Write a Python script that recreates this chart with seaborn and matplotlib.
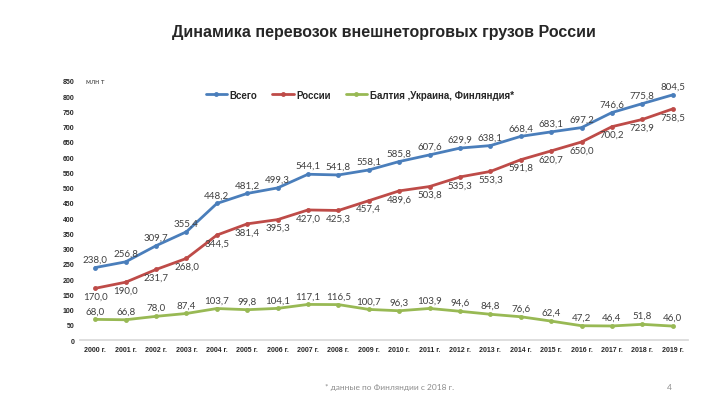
"""Dynamics of Russian foreign trade cargo transport, 2000-2019."""

import matplotlib
matplotlib.use("Agg")
import matplotlib.pyplot as plt
import numpy as np
import pandas as pd
import seaborn as sns

years = [f"{y} г." for y in range(2000, 2020)]
total = [238.0, 256.8, 309.7, 355.4, 448.2, 481.2, 499.3, 544.1, 541.8, 558.1,
         585.8, 607.6, 629.9, 638.1, 668.4, 683.1, 697.2, 746.6, 775.8, 804.5]
russia = [170.0, 190.0, 231.7, 268.0, 344.5, 381.4, 395.3, 427.0, 425.3, 457.4,
          489.6, 503.8, 535.3, 553.3, 591.8, 620.7, 650.0, 700.2, 723.9, 758.5]
baltic = [68.0, 66.8, 78.0, 87.4, 103.7, 99.8, 104.1, 117.1, 116.5, 100.7,
          96.3, 103.9, 94.6, 84.8, 76.6, 62.4, 47.2, 46.4, 51.8, 46.0]
series_names = ["Всего", "России", "Балтия ,Украина, Финляндия*"]

sns.set_theme(style="white")
plt.rcParams["font.family"] = ["Lato", "DejaVu Sans"]

df = pd.DataFrame({"pos": np.arange(len(years)), "Всего": total,
                   "России": russia, "Балтия ,Украина, Финляндия*": baltic})
long = df.melt(id_vars="pos", var_name="series", value_name="value")

colors = ["#4a7ebb", "#be4b48", "#98b954"]
fig = plt.figure(figsize=(7.28, 4.10), dpi=100)
ax = fig.add_axes([0.11, 0.168, 0.835, 0.632])

sns.lineplot(data=long, x="pos", y="value", hue="series", hue_order=series_names,
             palette=colors, marker="o", markersize=3.5, markeredgewidth=0,
             linewidth=2, ax=ax)

ax.set_xlim(-0.5, len(years) - 0.5)
ax.set_ylim(0, 850)
ax.set_yticks(range(0, 851, 50))
ax.set_xticks(range(len(years)))
ax.set_xticklabels(years)
ax.tick_params(axis="both", labelsize=5, length=0, pad=4)
for lab in ax.get_xticklabels() + ax.get_yticklabels():
    lab.set_fontweight("bold")
    lab.set_family(["Liberation Sans", "DejaVu Sans"])
ax.set_xlabel("")
ax.set_ylabel("")
for s in ["top", "right", "left"]:
    ax.spines[s].set_visible(False)
ax.spines["bottom"].set_color("#d9d9d9")

lab_kw = dict(ha="center", fontsize=7, color="#404040", textcoords="offset points")
for i in range(len(years)):
    ax.annotate(f"{total[i]:.1f}".replace(".", ","), (i, total[i]), xytext=(0, 3), va="bottom", **lab_kw)
    ax.annotate(f"{russia[i]:.1f}".replace(".", ","), (i, russia[i]), xytext=(0, -2.5), va="top", **lab_kw)
    ax.annotate(f"{baltic[i]:.1f}".replace(".", ","), (i, baltic[i]), xytext=(0, 3), va="bottom", **lab_kw)

ax.legend(loc="upper center", bbox_to_anchor=(0.46, 1.0), ncol=3, frameon=False,
          prop={"family": ["Liberation Sans", "DejaVu Sans"], "weight": "bold", "size": 7},
          handlelength=2.2, columnspacing=1.5, handletextpad=0.3)

ax.text(0.01, 850, "млн т", fontsize=5, color="#404040", va="center",
        transform=ax.get_yaxis_transform())

fig.text(0.527, 0.92, "Динамика перевозок внешнеторговых грузов России",
         ha="center", va="center", fontsize=11.5, fontweight="bold",
         family=["Liberation Sans", "DejaVu Sans"])
fig.text(0.535, 0.056, "* данные по Финляндии с 2018 г.", ha="center", va="center",
         fontsize=6, color="#8c8c8c")
fig.text(0.92, 0.056, "4", ha="center", va="center", fontsize=6, color="#8c8c8c")

fig.savefig("out.png", dpi=100)
